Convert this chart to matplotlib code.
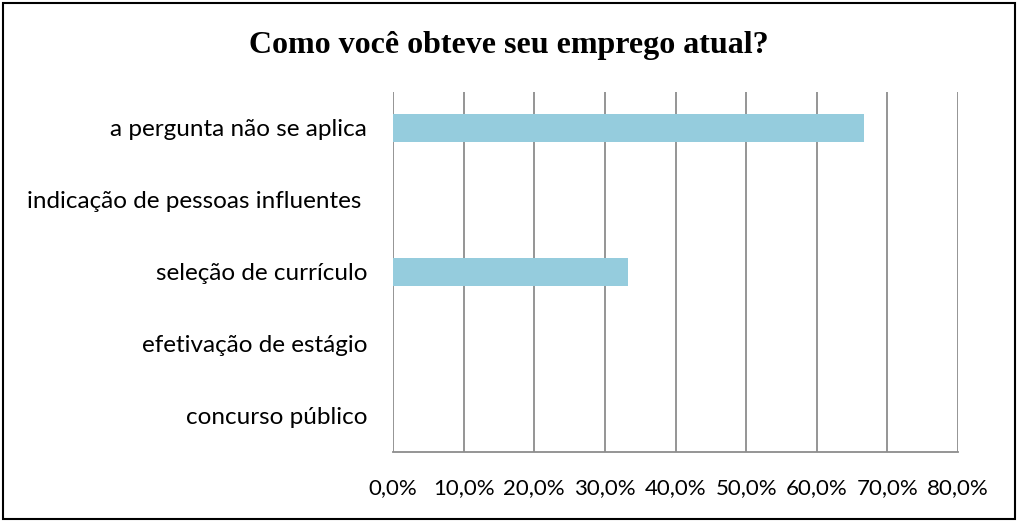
import matplotlib
matplotlib.use("Agg")
import matplotlib.pyplot as plt
from matplotlib.patches import Rectangle
from matplotlib.ticker import FuncFormatter

categories = ["concurso público", "efetivação de estágio", "seleção de currículo",
              "indicação de pessoas influentes ", "a pergunta não se aplica"]
values = [0.0, 0.0, 33.3, 0.0, 66.7]
xticks = [0, 10, 20, 30, 40, 50, 60, 70, 80]
title = "Como você obteve seu emprego atual?"

fig = plt.figure(figsize=(10.18, 5.22), dpi=100)
ax = fig.add_axes([393/1018, 1-452/522, (958-393)/1018, (452-92)/522])

ax.barh(range(len(categories)), values, height=0.4, color="#95CCDD", zorder=3)
ax.set_xlim(0, 80)
ax.set_ylim(-0.5, len(categories)-0.5)
ax.set_xticks(xticks)
ax.xaxis.set_major_formatter(FuncFormatter(lambda v, p: f"{v:.1f}%".replace(".", ",")))
ax.set_yticks(range(len(categories)))
ax.set_yticklabels(categories)
ax.grid(axis="x", color="#8c8c8c", linewidth=1.3, zorder=0)
for s in ["top", "right", "left"]:
    ax.spines[s].set_visible(False)
ax.spines["bottom"].set_color("#8c8c8c")
ax.spines["bottom"].set_linewidth(1.3)
ax.tick_params(axis="both", length=0, colors="black")
ax.tick_params(axis="x", pad=19, labelsize=16)
ax.tick_params(axis="y", pad=18.5, labelsize=17.5)
for lbl in ax.get_xticklabels() + ax.get_yticklabels():
    lbl.set_fontfamily("Lato")

fig.text(0.5, 1-45/522, title, ha="center", va="center", fontsize=23,
         fontweight="bold", fontfamily="Liberation Serif")

fig.patches.append(Rectangle((3/1018, 3/522), 1-6/1018, 1-6/522, transform=fig.transFigure,
                             fill=False, edgecolor="black", linewidth=1.5))

fig.savefig("out.png", dpi=100)
